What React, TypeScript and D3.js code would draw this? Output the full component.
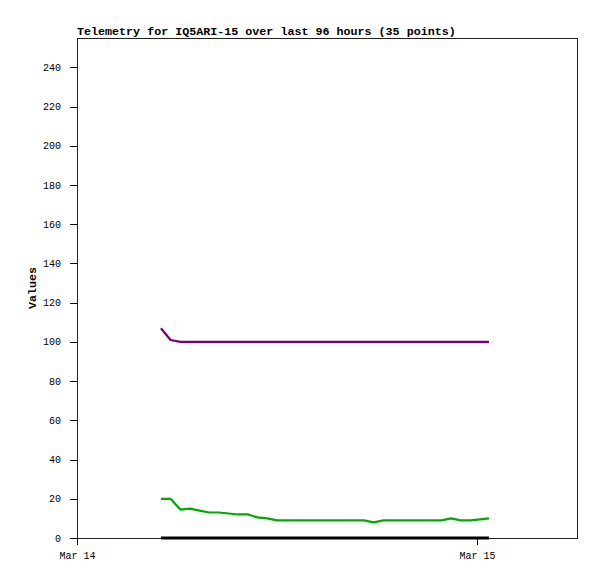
import React from "react";
import * as d3 from "d3";

const title = "Telemetry for IQ5ARI-15 over last 96 hours (35 points)";
const yLabel = "Values";

const times = [
  "2024-03-14T05:02", "2024-03-14T05:37", "2024-03-14T06:12", "2024-03-14T06:47",
  "2024-03-14T07:21", "2024-03-14T07:56", "2024-03-14T08:31", "2024-03-14T09:06",
  "2024-03-14T09:41", "2024-03-14T10:16", "2024-03-14T10:50", "2024-03-14T11:25",
  "2024-03-14T12:00", "2024-03-14T12:35", "2024-03-14T13:10", "2024-03-14T13:44",
  "2024-03-14T14:19", "2024-03-14T14:54", "2024-03-14T15:29", "2024-03-14T16:04",
  "2024-03-14T16:38", "2024-03-14T17:13", "2024-03-14T17:48", "2024-03-14T18:23",
  "2024-03-14T18:58", "2024-03-14T19:33", "2024-03-14T20:07", "2024-03-14T20:42",
  "2024-03-14T21:17", "2024-03-14T21:52", "2024-03-14T22:27", "2024-03-14T23:01",
  "2024-03-14T23:36", "2024-03-15T00:11", "2024-03-15T00:43",
];

const purpleValues = [
  107, 101, 100, 100, 100, 100, 100, 100, 100, 100, 100, 100, 100, 100, 100, 100, 100, 100,
  100, 100, 100, 100, 100, 100, 100, 100, 100, 100, 100, 100, 100, 100, 100, 100, 100,
];

const greenValues = [
  20, 20, 14.5, 15, 14, 13, 13, 12.5, 12, 12, 10.5, 10, 9, 9, 9, 9, 9, 9,
  9, 9, 9, 9, 8, 9, 9, 9, 9, 9, 9, 9, 10, 9, 9, 9.5, 10,
];

const blackValues = [
  0, 0, 0, 0, 0, 0, 0, 0, 0, 0, 0, 0, 0, 0, 0, 0, 0, 0,
  0, 0, 0, 0, 0, 0, 0, 0, 0, 0, 0, 0, 0, 0, 0, 0, 0,
];

const yTicks = [0, 20, 40, 60, 80, 100, 120, 140, 160, 180, 200, 220, 240];
const xTickDates = ["2024-03-14T00:00", "2024-03-15T00:00"];
const xTickLabels = ["Mar 14", "Mar 15"];
const xDomain = ["2024-03-14T00:00", "2024-03-15T06:00"];
const yDomain = [0, 255];

const parse = d3.utcParse("%Y-%m-%dT%H:%M");

export default function App() {
  const left = 77, right = 577, top = 38, bottom = 538;
  const x = d3.scaleUtc().domain(xDomain.map((d) => parse(d)!)).range([left, right]);
  const y = d3.scaleLinear().domain(yDomain).range([bottom, top]);
  const dates = times.map((t) => parse(t)!);
  const line = d3
    .line<number>()
    .x((_, i) => x(dates[i]))
    .y((v) => y(v));
  const series = [
    { values: blackValues, color: "#000000", w: 3 },
    { values: purpleValues, color: "#770077", w: 2.2 },
    { values: greenValues, color: "#00aa00", w: 2.2 },
  ];
  const mono = "'Liberation Mono', 'DejaVu Sans Mono', monospace";
  return (
    <svg
      width={597}
      height={579}
      style={{ position: "absolute", left: 0, top: 0, background: "#fff" }}
      fontFamily={mono}
    >
      <rect x={0} y={0} width={597} height={579} fill="#fff" />
      <text x={left} y={35} fontSize={11.7} fontWeight="bold" fill="#000">
        {title}
      </text>
      <rect x={left + 0.5} y={top + 0.5} width={right - left} height={bottom - top} fill="none" stroke="#222" strokeWidth={1} />
      {yTicks.map((t) => (
        <g key={t}>
          <line x1={left - 7} x2={left} y1={Math.round(y(t)) + 0.5} y2={Math.round(y(t)) + 0.5} stroke="#000" />
          <text x={61} y={y(t)} dy="0.35em" textAnchor="end" fontSize={10} fill="#000">
            {t}
          </text>
        </g>
      ))}
      {xTickDates.map((d, i) => {
        const px = Math.round(x(parse(d)!)) + 0.5;
        return (
          <g key={d}>
            <line x1={px} x2={px} y1={bottom} y2={bottom + 7} stroke="#000" />
            <text x={px} y={559} textAnchor="middle" fontSize={10} fill="#000">
              {xTickLabels[i]}
            </text>
          </g>
        );
      })}
      <text
        transform={`translate(36, ${(top + bottom) / 2}) rotate(-90)`}
        textAnchor="middle"
        fontSize={11.7}
        fontWeight="bold"
        fill="#000"
      >
        {yLabel}
      </text>
      {series.map((s, i) => (
        <path key={i} d={line(s.values) || ""} fill="none" stroke={s.color} strokeWidth={s.w} strokeLinejoin="round" />
      ))}
    </svg>
  );
}
